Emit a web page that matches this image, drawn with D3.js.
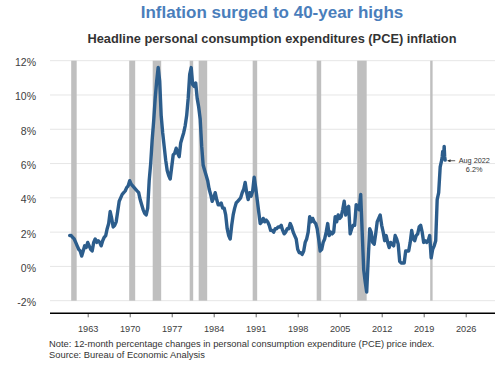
<!DOCTYPE html>
<html>
<head>
<meta charset="utf-8">
<script src="https://cdnjs.cloudflare.com/ajax/libs/d3/7.8.5/d3.min.js"></script>
<style>
  body { margin: 0; background: #fff; }
  svg { font-family: "Liberation Sans", Arial, sans-serif; }
</style>
</head>
<body>
<svg id="chart" width="500" height="365"></svg>
<script>
// PCE inflation, 12-month % change. Quarterly readings (Jan, Apr, Jul, Oct) 1960-2021
const startYear = 1960;
const pceQuarterly = [
  1.8, 1.8, 1.7, 1.6,   // 1960
  1.4, 1.2, 1.0, 0.9,   // 1961
  0.6, 0.9, 1.2, 1.1,   // 1962
  1.4, 1.2, 1.0, 0.9,   // 1963
  1.4, 1.6, 1.4, 1.5,   // 1964
  1.4, 1.2, 1.5, 1.7,   // 1965
  1.8, 2.2, 2.5, 3.2,   // 1966
  2.8, 2.3, 2.4, 2.6,   // 1967
  3.2, 3.8, 4.0, 4.2,   // 1968
  4.3, 4.4, 4.6, 4.7,   // 1969
  5.0, 4.8, 4.7, 4.6,   // 1970
  4.5, 4.4, 4.3, 3.9,   // 1971
  3.6, 3.3, 3.1, 3.0,   // 1972
  3.4, 5.0, 6.0, 7.4,   // 1973
  8.5, 9.8, 10.8, 11.6, // 1974
  10.8, 8.8, 7.8, 7.0,  // 1975
  6.2, 5.6, 5.3, 5.1,   // 1976
  5.8, 6.5, 6.6, 6.9,   // 1977
  6.6, 6.4, 7.2, 7.5,   // 1978
  7.8, 8.2, 8.8, 9.8,   // 1979
  11.2, 11.6, 10.6, 10.5, // 1980
  10.7, 9.8, 9.3, 8.6,  // 1981
  7.0, 5.9, 5.6, 5.3,   // 1982
  5.0, 4.5, 4.2, 3.8,   // 1983
  4.0, 4.3, 3.9, 3.6,   // 1984
  3.6, 3.7, 3.4, 3.4,   // 1985
  3.0, 2.2, 1.8, 1.6,   // 1986
  2.4, 3.0, 3.4, 3.7,   // 1987
  3.8, 3.9, 4.0, 4.3,   // 1988
  4.5, 4.9, 4.3, 3.9,   // 1989
  4.3, 4.1, 4.4, 5.2,   // 1990
  4.6, 3.9, 3.2, 2.5,   // 1991
  2.6, 2.8, 2.6, 2.7,   // 1992
  2.6, 2.4, 2.1, 2.1,   // 1993
  2.0, 2.2, 2.2, 2.3,   // 1994
  2.3, 2.4, 2.1, 1.9,   // 1995
  2.0, 2.2, 2.2, 2.5,   // 1996
  2.3, 2.0, 1.8, 1.6,   // 1997
  1.0, 0.8, 0.8, 0.7,   // 1998
  0.9, 1.4, 1.6, 2.0,   // 1999
  2.9, 2.6, 2.8, 2.6,   // 2000
  2.5, 2.2, 1.6, 0.9,   // 2001
  1.0, 1.4, 1.6, 2.0,   // 2002
  2.5, 1.8, 2.0, 1.9,   // 2003
  2.0, 2.9, 2.6, 3.0,   // 2004
  2.8, 2.9, 3.3, 3.8,   // 2005
  3.0, 3.4, 3.5, 1.9,   // 2006
  2.2, 2.4, 2.4, 3.6,   // 2007
  3.5, 3.3, 4.2, 2.0,   // 2008
  -0.2, -0.9, -1.5, 0.4, // 2009
  2.2, 2.0, 1.4, 1.3,   // 2010
  1.9, 2.6, 2.8, 3.0,   // 2011
  2.4, 2.0, 1.5, 1.8,   // 2012
  1.4, 1.1, 1.4, 1.3,   // 2013
  1.2, 1.8, 1.6, 1.3,   // 2014
  0.3, 0.2, 0.2, 0.2,   // 2015
  0.9, 0.9, 0.9, 1.4,   // 2016
  2.1, 1.6, 1.5, 1.8,   // 2017
  1.9, 2.3, 2.4, 2.0,   // 2018
  1.4, 1.5, 1.4, 1.5,   // 2019
  1.8, 0.5, 1.0, 1.2,   // 2020
  1.5, 3.9, 4.3, 5.8    // 2021
];
// monthly Jan-Aug 2022
const pce2022 = [6.2, 6.4, 6.7, 6.4, 6.5, 7.0, 6.4, 6.2];

const recessions = [
  ["1960-04", "1961-02"], ["1969-12", "1970-11"], ["1973-11", "1975-03"],
  ["1980-01", "1980-07"], ["1981-07", "1982-11"], ["1990-07", "1991-03"],
  ["2001-03", "2001-11"], ["2007-12", "2009-06"], ["2020-02", "2020-04"]
];

const yTicks = [-2, 0, 2, 4, 6, 8, 10, 12];
const xTickYears = [1963, 1970, 1977, 1984, 1991, 1998, 2005, 2012, 2019, 2026];

const title = "Inflation surged to 40-year highs";
const subtitle = "Headline personal consumption expenditures (PCE) inflation";
const noteText = "Note: 12-month percentage changes in personal consumption expenditure (PCE) price index.";
const sourceText = "Source: Bureau of Economic Analysis";
const lastLabel = "Aug 2022";

// build the series
var data = pceQuarterly.map(function(v, i) {
  return { date: new Date(startYear + Math.floor(i / 4), (i % 4) * 3, 1), value: v };
});
pce2022.forEach(function(v, i) {
  data.push({ date: new Date(2022, i, 1), value: v });
});

var svg = d3.select("#chart");
var left = 50, right = 495, axisY = 313.3;

var x = d3.scaleTime()
  .domain([new Date(1963, 0, 1), new Date(2026, 0, 1)])
  .range([87.7, 465.7]);

var y = d3.scaleLinear()
  .domain([-2, 12])
  .range([300.7, 60.7]);

var parseMonth = d3.timeParse("%Y-%m");

// titles
svg.append("text")
  .attr("x", 272).attr("y", 17.5)
  .attr("text-anchor", "middle")
  .attr("font-size", 17).attr("font-weight", "bold")
  .attr("fill", "#4a7ebb")
  .text(title);

svg.append("text")
  .attr("x", 272).attr("y", 43)
  .attr("text-anchor", "middle")
  .attr("font-size", 12.8).attr("font-weight", "bold")
  .attr("fill", "#333")
  .text(subtitle);

// gridlines
svg.append("g").selectAll("line")
  .data(yTicks)
  .enter().append("line")
    .attr("x1", left).attr("x2", right)
    .attr("y1", function(d) { return y(d); })
    .attr("y2", function(d) { return y(d); })
    .attr("stroke", "#e6e6e6")
    .attr("stroke-width", 1);

svg.append("g").selectAll("text")
  .data(yTicks)
  .enter().append("text")
    .attr("x", 36)
    .attr("y", function(d) { return y(d) + 5.5; })
    .attr("text-anchor", "end")
    .attr("font-size", 10.5)
    .attr("fill", "#404040")
    .text(function(d) { return d + "%"; });

// recession bars
svg.append("g").selectAll("rect")
  .data(recessions)
  .enter().append("rect")
    .attr("x", function(d) { return x(parseMonth(d[0])); })
    .attr("width", function(d) {
      var end = d3.timeMonth.offset(parseMonth(d[1]), 1);
      return Math.max(2.4, x(end) - x(parseMonth(d[0])));
    })
    .attr("y", y(12))
    .attr("height", y(-2) - y(12))
    .attr("fill", "#bfbfbf");

// line
var line = d3.line()
  .x(function(d) { return x(d.date); })
  .y(function(d) { return y(d.value); });

svg.append("path")
  .datum(data)
  .attr("d", line)
  .attr("fill", "none")
  .attr("stroke", "#2c5d8c")
  .attr("stroke-width", 3.4)
  .attr("stroke-linejoin", "round")
  .attr("stroke-linecap", "round");

// x axis
var xAxis = d3.axisBottom(x)
  .tickValues(xTickYears.map(function(yr) { return new Date(yr, 0, 1); }))
  .tickFormat(d3.timeFormat("%Y"))
  .tickSize(4)
  .tickPadding(8);

var gx = svg.append("g")
  .attr("transform", "translate(0," + axisY + ")")
  .call(xAxis);
gx.select(".domain").remove();
gx.selectAll(".tick line").attr("stroke", "#666");
gx.selectAll(".tick text")
  .attr("font-family", "Liberation Sans, Arial, sans-serif")
  .attr("font-size", 9.2)
  .attr("fill", "#404040");

svg.append("line")
  .attr("x1", left).attr("x2", right)
  .attr("y1", axisY).attr("y2", axisY)
  .attr("stroke", "#000")
  .attr("stroke-width", 1.6);

// annotation for the last point
var last = data[data.length - 1];
var ax = x(last.date), ay = y(last.value);

svg.append("defs").append("marker")
  .attr("id", "arrow")
  .attr("viewBox", "0 0 10 10")
  .attr("refX", 9).attr("refY", 5)
  .attr("markerWidth", 4).attr("markerHeight", 4)
  .attr("orient", "auto")
  .append("path")
    .attr("d", "M0,0L10,5L0,10z")
    .attr("fill", "#333");

svg.append("line")
  .attr("x1", ax + 10).attr("x2", ax + 2.5)
  .attr("y1", ay + 0.6).attr("y2", ay + 0.6)
  .attr("stroke", "#333")
  .attr("stroke-width", 0.8)
  .attr("marker-end", "url(#arrow)");

svg.append("text")
  .attr("x", ax + 13.5).attr("y", ay + 3.2)
  .attr("font-size", 7.3).attr("fill", "#333")
  .text(lastLabel);

svg.append("text")
  .attr("x", ax + 29).attr("y", ay + 11.6)
  .attr("text-anchor", "middle")
  .attr("font-size", 7.3).attr("fill", "#333")
  .text(last.value.toFixed(1) + "%");

// footnotes
svg.append("text")
  .attr("x", 49).attr("y", 347)
  .attr("font-size", 9.35).attr("fill", "#333")
  .text(noteText);

svg.append("text")
  .attr("x", 49).attr("y", 357.5)
  .attr("font-size", 9.35).attr("fill", "#333")
  .text(sourceText);
</script>
</body>
</html>
